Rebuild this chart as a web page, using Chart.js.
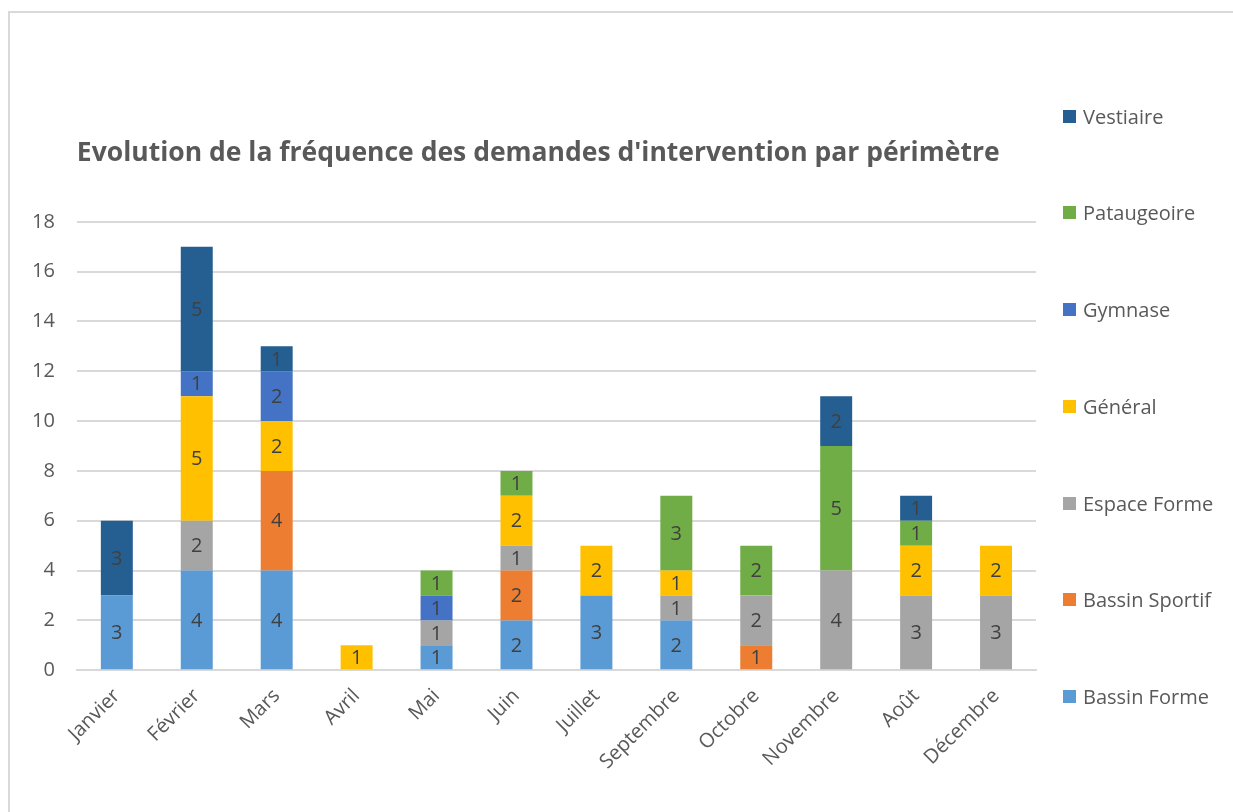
<!DOCTYPE html>
<html lang="fr">
<head>
<meta charset="utf-8">
<title>Evolution de la fréquence des demandes d'intervention par périmètre</title>
<script src="https://cdn.jsdelivr.net/npm/chart.js@4.4.1/dist/chart.umd.min.js"></script>
<style>
  html, body { margin: 0; padding: 0; background: #fff; overflow: hidden; }
  body { width: 1233px; height: 812px; position: relative; font-family: 'Open Sans', sans-serif; }
  .frame { position: absolute; left: 8px; top: 11px; width: 1300px; height: 900px; border: 2px solid #d9d9d9; }
  .chart-box { position: absolute; left: 10px; top: 13px; width: 1066px; height: 799px; }
  #legend { position: absolute; left: 1063px; top: 106px; margin: 0; padding: 0; list-style: none; }
  #legend li { display: flex; align-items: center; height: 20px; margin-bottom: 76.8px; font-size: 20px; color: #595959; white-space: nowrap; }
  #legend .swatch { width: 13px; height: 13px; margin-right: 7px; }
</style>
</head>
<body>
<div class="frame"></div>
<div class="chart-box"><canvas id="chart"></canvas></div>
<ul id="legend"></ul>

<script>
// ── Data ──────────────────────────────────────────────────────────
const months = ['Janvier', 'Février', 'Mars', 'Avril', 'Mai', 'Juin', 'Juillet',
  'Septembre', 'Octobre', 'Novembre', 'Août', 'Décembre'];

const bassinForme   = [3, 4, 4, null, 1, 2, 3, 2, null, null, null, null];
const bassinSportif = [null, null, 4, null, null, 2, null, null, 1, null, null, null];
const espaceForme   = [null, 2, null, null, 1, 1, null, 1, 2, 4, 3, 3];
const general       = [null, 5, 2, 1, null, 2, 2, 1, null, null, 2, 2];
const gymnase       = [null, 1, 2, null, 1, null, null, null, null, null, null, null];
const pataugeoire   = [null, null, null, null, 1, 1, null, 3, 2, 5, 1, null];
const vestiaire     = [3, 5, 1, null, null, null, null, null, null, 2, 1, null];

const seriesNames  = ['Bassin Forme', 'Bassin Sportif', 'Espace Forme', 'Général', 'Gymnase', 'Pataugeoire', 'Vestiaire'];
const seriesValues = [bassinForme, bassinSportif, espaceForme, general, gymnase, pataugeoire, vestiaire];
const seriesColors = ['#5b9bd5', '#ed7d31', '#a5a5a5', '#ffc000', '#4472c4', '#70ad47', '#255e91'];

const yTicks = { min: 0, max: 18, step: 2 };

const FONT = "'Open Sans', sans-serif";
const TEXT = '#595959';
const GRID = '#d9d9d9';

// ── Value labels in the middle of each segment ────────────────────
const segmentLabels = {
  id: 'segmentLabels',
  afterDatasetsDraw(chart) {
    const ctx = chart.ctx;
    ctx.save();
    ctx.font = `20px ${FONT}`;
    ctx.fillStyle = '#404040';
    ctx.textAlign = 'center';
    ctx.textBaseline = 'middle';
    chart.data.datasets.forEach((ds, i) => {
      const meta = chart.getDatasetMeta(i);
      meta.data.forEach((bar, j) => {
        const v = ds.data[j];
        if (v == null) return;
        ctx.fillText(String(v), bar.x, (bar.y + bar.base) / 2 + 1);
      });
    });
    ctx.restore();
  }
};

// ── Chart ─────────────────────────────────────────────────────────
const chart = new Chart(document.getElementById('chart'), {
  type: 'bar',
  data: {
    labels: months,
    datasets: seriesNames.map((name, i) => ({
      label: name,
      data: seriesValues[i],
      backgroundColor: seriesColors[i],
      borderWidth: 0,
      barPercentage: 0.5,
      categoryPercentage: 0.8,
    }))
  },
  options: {
    responsive: true,
    maintainAspectRatio: false,
    animation: false,
    layout: { padding: { left: 0, right: 40, top: 0, bottom: 32 } },
    plugins: {
      legend: { display: false },
      tooltip: { enabled: false },
      title: {
        display: true,
        fullSize: false,
        align: 'start',
        text: "Evolution de la fréquence des demandes d'intervention par périmètre",
        color: TEXT,
        font: { family: FONT, size: 26.5, weight: 'bold' },
        padding: { top: 125, bottom: 52 },
      }
    },
    scales: {
      x: {
        stacked: true,
        grid: { display: false },
        border: { display: true, color: GRID, width: 2 },
        ticks: { color: TEXT, font: { family: FONT, size: 20 }, minRotation: 45, maxRotation: 45, padding: 6 }
      },
      y: {
        stacked: true,
        min: yTicks.min,
        max: yTicks.max,
        grid: { color: GRID, lineWidth: 2, drawTicks: false },
        border: { display: false },
        ticks: { stepSize: yTicks.step, color: TEXT, font: { family: FONT, size: 20 }, padding: 22 }
      }
    }
  },
  plugins: [segmentLabels]
});

// ── Legend (reversed, like the original) ──────────────────────────
const legendEl = document.getElementById('legend');
legendEl.innerHTML = chart.data.datasets.slice().reverse()
  .map(ds => `<li><span class="swatch" style="background:${ds.backgroundColor}"></span>${ds.label}</li>`)
  .join('');
</script>
</body>
</html>
